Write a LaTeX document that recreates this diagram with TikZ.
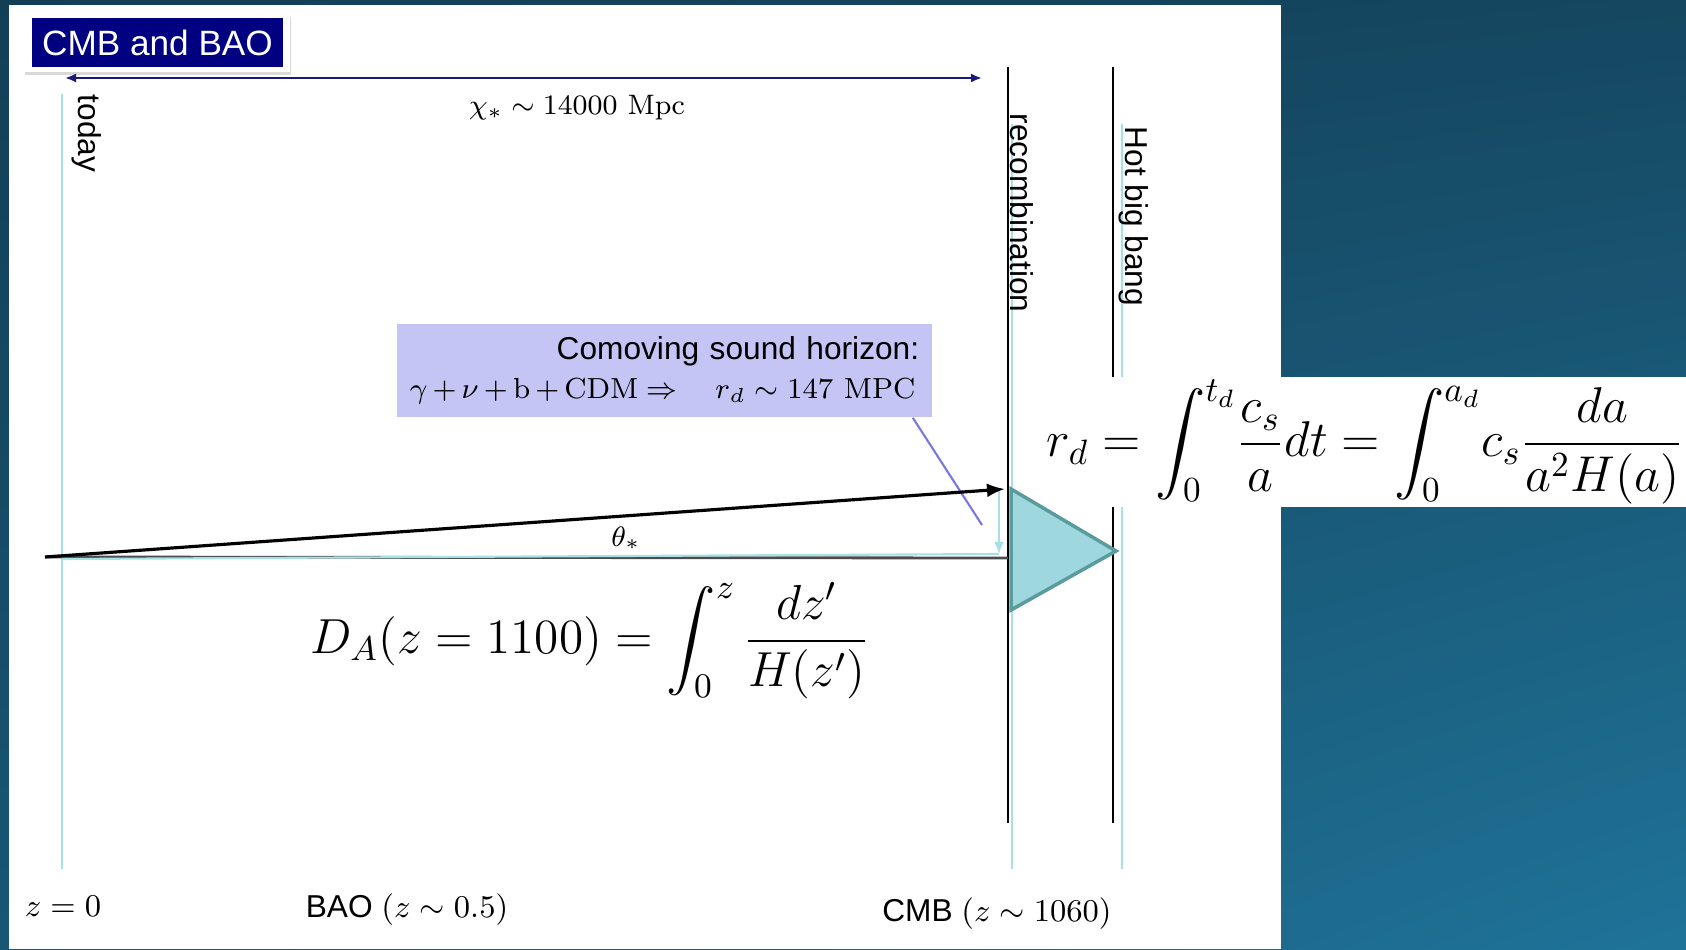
\RequirePackage{fix-cm}
\documentclass[tikz,border=0pt]{standalone}
\usepackage{amsmath,amssymb}
\usepackage{fontspec}
\setsansfont{Liberation Sans}
\usepackage{xcolor}
\usepackage{tikz}
\usetikzlibrary{arrows.meta,positioning,shadings}

\definecolor{bgdark}{RGB}{19,63,86}
\definecolor{bglight}{RGB}{31,115,153}
\definecolor{titlenavy}{RGB}{0,0,128}
\definecolor{lavender}{RGB}{196,196,245}
\definecolor{tricyan}{RGB}{158,216,222}
\definecolor{triedge}{RGB}{90,155,158}
\definecolor{linecyan}{RGB}{168,224,232}
\definecolor{ptrblue}{RGB}{120,120,225}
\definecolor{arrnavy}{RGB}{25,25,120}

\begin{document}
\begin{tikzpicture}[x=0.01cm, y=-0.01cm,
  lbl/.style={font=\sffamily\fontsize{9}{11}\selectfont, inner sep=0pt},
  vlbl/.style={lbl, rotate=-90, anchor=west},
  epoch/.style={black, line width=0.5pt},
  guide/.style={linecyan, line width=0.6pt},
  bigeq/.style={font=\fontsize{14}{17}\selectfont, inner sep=0pt},
  arr/.style={-{Latex[length=1.8mm, width=1.4mm]}, line width=0.9pt}]
% --- background and white panel ---
\useasboundingbox (0,0) rectangle (1686,949);
\shade[upper left=bgdark, upper right=bgdark!85!bglight,
       lower left=bgdark!55!bglight, lower right=bglight] (0,0) rectangle (1686,949);
\fill[white] (9,5) rectangle (1281,949);
% --- title card ---
\fill[black!15] (25,17) rectangle (291,75);
\fill[white] (24,13) rectangle (290,72);
\node[fill=titlenavy, text=white, font=\sffamily\fontsize{10}{12}\selectfont,
      minimum width=2.51cm, minimum height=0.49cm, inner sep=0pt] (title)
  at (157.5,42.5) {CMB and BAO};
% --- epoch lines ---
\draw[guide] (62,94) -- (62,869);
\draw[guide] (1012,124) -- (1012,869);
\draw[guide] (1122,124) -- (1122,869);
\draw[epoch] (1008,67) -- (1008,823);
\draw[epoch] (1113,67) -- (1113,823);
\node[vlbl] (today) at (87,94) {today};
\node[vlbl] (recomb) at (1022,113) {recombination};
\node[vlbl] (hotbang) at (1134,126) {Hot big bang};
\fill[white] (1040,377) rectangle (1686,507);
% --- comoving distance ---
\coordinate (near) at (65,78);
\coordinate (far) at (982,78);
\draw[arrnavy, line width=0.6pt, {Latex[length=1.1mm, width=0.9mm]}-{Latex[length=1.1mm, width=0.9mm]}]
  (near) -- (far);
\node[font=\fontsize{8}{10}\selectfont] (chi) at (577,108)
  {$\chi_* \sim 14000\ \mathrm{Mpc}$};
% --- sound horizon ---
\node[fill=lavender, text width=5.09cm, align=right, inner sep=0.13cm,
      minimum height=0.91cm, font=\sffamily\fontsize{9}{11}\selectfont] (horizon)
  at (664.5,370.5)
  {Comoving sound horizon:\\
   \mbox{\fontsize{8.25}{11}\selectfont\medmuskip=3mu
   $\gamma+\nu+\mathrm{b}+\mathrm{CDM}\Rightarrow\quad r_d\sim 147\ \mathrm{MPC}$\,}};
\coordinate (tip) at (982,525);
\draw[ptrblue, line width=0.6pt] ([xshift=-2mm]horizon.south east) -- (tip);
% --- angle theta ---
\coordinate (obs) at (45,557);
\coordinate (base) at (1008,558);
\coordinate (rtop) at (1011,489);
\coordinate (rmid) at (1116,551);
\coordinate (rbot) at (1011,610);
\coordinate (gl) at (62,559);
\coordinate (gr) at (999,554);
\coordinate (gt) at (999,491);
\draw[black!70, line width=0.8pt] (obs) -- (base);
\draw[guide] (gl) -- (gr);
\draw[guide, -{Latex[length=1.2mm, width=1mm]}] (gt) -- (gr);
\draw[arr] (obs) -- ([xshift=-0.6mm]rtop);
\filldraw[fill=tricyan, draw=triedge, line width=1pt] (rtop) -- (rmid) -- (rbot) -- cycle;
\node[font=\fontsize{8}{9}\selectfont] (theta) at (626,538) {$\theta_*$};
% --- formulas ---
\node[bigeq] (dist) at (590,641)
  {$\displaystyle D_A(z=1100)=\int_0^z\frac{dz'}{H(z')}$};
\node[bigeq, anchor=west, font=\fontsize{14.3}{17}\selectfont] (rdrag) at (1046,442)
  {$\displaystyle r_d=\int_0^{t_d}\!\frac{c_s}{a}dt=\int_0^{a_d}\!c_s\frac{da}{a^2H(a)}$};
% --- redshift labels ---
\node[lbl] (znow) at (63,906) {$z=0$};
\node[lbl] (bao) at (407,910) {BAO $(z\sim 0.5)$};
\node[lbl] (cmb) at (997,914) {CMB $(z\sim 1060)$};
\end{tikzpicture}
\end{document}
